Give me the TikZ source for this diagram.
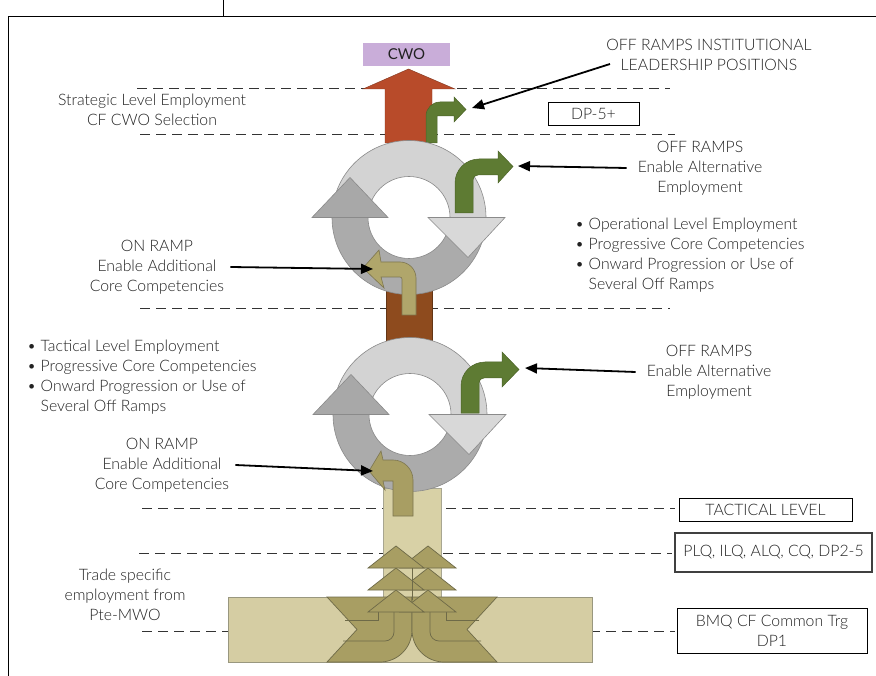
\documentclass[tikz,border=0pt]{standalone}
\usepackage{fontspec}
\IfFontExistsTF{Lato Light}{\setmainfont{Lato Light}}{\setmainfont{Lato}}
\newfontfamily\latoreg{Lato}
\usetikzlibrary{calc,arrows.meta}
\definecolor{txt}{HTML}{222222}
\definecolor{dashc}{HTML}{333333}
\definecolor{ringL}{HTML}{D3D3D3}
\definecolor{ringD}{HTML}{ABABAB}
\definecolor{headL}{HTML}{D8D8D8}
\definecolor{headD}{HTML}{A8A8A8}
\definecolor{ringO}{HTML}{8A8A8A}
\definecolor{cwoC}{HTML}{C9ADD9}
\definecolor{rust}{HTML}{B84B2A}
\definecolor{brownC}{HTML}{8E4B1E}
\definecolor{greenC}{HTML}{5E7B33}
\definecolor{greenO}{HTML}{4C6428}
\definecolor{khaki}{HTML}{B0A66B}
\definecolor{khakiO}{HTML}{7D7650}
\definecolor{colC}{HTML}{D8D1A6}
\definecolor{blockC}{HTML}{D5CDA3}
\definecolor{oliveC}{HTML}{A89E63}
\definecolor{oliveO}{HTML}{6E6A48}
\begin{document}
\begin{tikzpicture}[x=1pt,y=-1pt,
  lbl/.style={font=\fontsize{15.8}{20}\selectfont, align=center, text=txt, inner sep=2pt},
  bul/.style={lbl, align=left, anchor=west, inner sep=0pt},
  tbox/.style={draw=black, line width=0.9pt, font=\fontsize{15.8}{20}\selectfont, text=txt, inner sep=0pt, align=center},
  lvl/.style={draw=dashc, line width=0.8pt, dash pattern=on 10pt off 6pt},
  ptr/.style={draw=black, line width=1.8pt, -{Triangle[length=12pt,width=10pt]}},
  ringlt/.style={fill=ringL, draw=ringO, line width=0.6pt},
  ringdk/.style={fill=ringD, draw=ringO, line width=0.6pt},
  headlt/.style={fill=headL, draw=ringO, line width=0.6pt},
  headdk/.style={fill=headD, draw=ringO, line width=0.6pt},
  offramp/.style={fill=greenC, draw=greenO, line width=0.5pt},
  onramp/.style={fill=khaki, draw=khakiO, line width=0.6pt},
  olive/.style={fill=oliveC, draw=oliveO, line width=0.7pt},
  frame/.style={draw=black, line width=0.8pt}
]
\useasboundingbox (0,0) rectangle (876,676);
\fill[white] (0,0) rectangle (876,676);

% frame
\draw[frame] (8,676) -- (8,16) -- (876,16);
\draw[frame] (223,0) -- (223,16);

% level lines
\draw[lvl] (137,88) -- (670,88);
\draw[lvl] (140,134) -- (675,134);
\draw[lvl] (140,308) -- (670,308);
\draw[lvl] (142,508) -- (675,508);
\draw[lvl] (139,553) -- (672,553);
\draw[lvl] (142,631) -- (675,631);

% CWO arrow
\filldraw[fill=rust, draw=rust!70!black, line width=0.4pt]
  (385,143) -- (385,89) -- (363,89) -- (408.5,69) -- (455,89) -- (432,89) -- (432,143) -- cycle;
% small green off ramp (strategic)
\filldraw[offramp] (426,143) -- (426,116) .. controls (426,108.3) and (432.3,102) .. (440,102)
  -- (454,102) -- (454,97) -- (466,109.5) -- (454,122) -- (454,116) -- (437,116) -- (437,143) -- cycle;

% brown link
\filldraw[fill=brownC, draw=brownC!70!black, line width=0.4pt] (386,290) rectangle (432,342);
% beige column
\filldraw[fill=colC, draw=oliveO!60, line width=0.6pt] (383,488) rectangle (441,598);

% upper ring
\coordinate (C1) at (409,217.5);
\filldraw[ringdk] ($(C1)+(180:77pt)$) arc[start angle=180, end angle=360, radius=77pt]
  -- ($(C1)+(0:41pt)$) arc[start angle=0, end angle=-180, radius=41pt] -- cycle;
\filldraw[ringlt] ($(C1)+(0:77pt)$) arc[start angle=0, end angle=180, radius=77pt]
  -- ($(C1)+(180:41pt)$) arc[start angle=180, end angle=0, radius=41pt] -- cycle;
\filldraw[headlt] (428,217.5) -- (505,217.5) -- (468,257.5) -- cycle;
\filldraw[headdk] (312,217.5) -- (388,217.5) -- (350,177.5) -- cycle;

% lower ring
\coordinate (C2) at (410,414.5);
\filldraw[ringdk] ($(C2)+(180:77pt)$) arc[start angle=180, end angle=360, radius=77pt]
  -- ($(C2)+(0:41pt)$) arc[start angle=0, end angle=-180, radius=41pt] -- cycle;
\filldraw[ringlt] ($(C2)+(0:77pt)$) arc[start angle=0, end angle=180, radius=77pt]
  -- ($(C2)+(180:41pt)$) arc[start angle=180, end angle=0, radius=41pt] -- cycle;
\filldraw[headlt] (429,414.5) -- (506,414.5) -- (469,454.5) -- cycle;
\filldraw[headdk] (313,414.5) -- (389,414.5) -- (351,374.5) -- cycle;

% big green off ramps
\filldraw[offramp] (455,213) -- (455,183) .. controls (455,169.75) and (465.75,159) .. (479,159)
  -- (498,159) -- (498,151) -- (513,166.5) -- (498,183) -- (498,175) -- (478,175)
  .. controls (475,175) and (473,177) .. (473,180) -- (473,213) -- cycle;
\filldraw[offramp] (461,413) -- (461,386) .. controls (461,372.75) and (471.75,362) .. (485,362)
  -- (502,362) -- (502,352) -- (519,369.5) -- (502,387) -- (502,378) -- (484,378)
  .. controls (481,378) and (479,380) .. (479,383) -- (479,413) -- cycle;

% on ramps
\filldraw[onramp] (416,315) -- (416,278) .. controls (416,269.2) and (408.8,262) .. (400,262)
  -- (381,262) -- (379,250) -- (363,268) -- (384,288) -- (381,277) -- (400,277)
  .. controls (401,277) and (402,278) .. (402,279) -- (402,315) -- cycle;
\filldraw[onramp, fill=oliveC] (413,516) -- (413,480) .. controls (413,469) and (404,460) .. (393,460)
  -- (383,460) -- (381,451) -- (369,471) -- (385,490) -- (383,481) -- (393,481) -- (393,516) -- cycle;

% base block
\filldraw[fill=blockC, draw=oliveO!70, line width=0.7pt] (228,597) rectangle (592,662);
\filldraw[olive] (327,597) -- (412,597) -- (412,630) .. controls (412,647.7) and (397.7,662) .. (380,662)
  -- (327,662) -- (357,629.5) -- cycle;
\filldraw[olive] (497,597) -- (412,597) -- (412,630) .. controls (412,647.7) and (426.3,662) .. (444,662)
  -- (497,662) -- (467,629.5) -- cycle;
\draw[oliveO, line width=0.7pt] (345,620) -- (378,620) -- (378,606);
\draw[oliveO, line width=0.7pt] (343,641) -- (385,641) .. controls (390,641) and (394,637) .. (394,632) -- (394,612);
\draw[oliveO, line width=0.7pt] (479,620) -- (446,620) -- (446,606);
\draw[oliveO, line width=0.7pt] (481,641) -- (439,641) .. controls (434,641) and (430,637) .. (430,632) -- (430,612);
% stacked heads
\foreach \t/\b in {590/612, 568/590, 546/568} {
  \filldraw[olive] (400,\b) -- (428,\t) -- (456,\b) -- cycle;
  \filldraw[olive] (368,\b) -- (396,\t) -- (424,\b) -- cycle;
}
\draw[oliveO, line width=0.8pt] (412,568) -- (412,600);

% boxes
\node[fill=cwoC, minimum width=87pt, minimum height=23pt, inner sep=0pt,
  font=\latoreg\fontsize{15}{17}\selectfont, text=txt] (cwo) at (406.5,54.5) {CWO};
\node[tbox, minimum width=91pt, minimum height=23pt] (dp5) at (593.5,113.5) {DP-5+};
\node[tbox, minimum width=173pt, minimum height=23pt] (tact) at (765.5,509.5) {TACTICAL LEVEL};
\node[tbox, draw=black!75, line width=1.1pt, minimum width=197pt, minimum height=39pt] (plq) at (773.5,552.5) {PLQ, ILQ, ALQ, CQ, DP2-5};
\node[tbox, minimum width=190pt, minimum height=45pt] (bmq) at (772,630.5) {BMQ CF Common Trg\\DP1};

% labels
\node[lbl] (offI) at (709,54.5) {OFF RAMPS INSTITUTIONAL\\LEADERSHIP POSITIONS};
\node[lbl] (strat) at (152,110) {Strategic Level Employment\\CF CWO Selection};
\node[lbl] (offA) at (700,168) {OFF RAMPS\\Enable Alternative\\Employment};
\node[bul] (bulR) at (575,255) {\textbullet\ Operational Level Employment\\\textbullet\ Progressive Core Competencies\\\textbullet\ Onward Progression or Use of\\\phantom{\textbullet\ }Several Off Ramps};
\node[lbl] (onA) at (157,267) {ON RAMP\\Enable Additional\\Core Competencies};
\node[bul] (bulL) at (27,377) {\textbullet\ Tactical Level Employment\\\textbullet\ Progressive Core Competencies\\\textbullet\ Onward Progression or Use of\\\phantom{\textbullet\ }Several Off Ramps};
\node[lbl] (offB) at (709,372) {OFF RAMPS\\Enable Alternative\\Employment};
\node[lbl] (onB) at (162,465) {ON RAMP\\Enable Additional\\Core Competencies};
\node[lbl] (trade) at (125,595) {Trade specific\\employment from\\Pte-MWO};

% pointer targets
\coordinate (iS) at (610,64);
\coordinate (iT) at (472,108);
\coordinate (aT) at (518,166);
\coordinate (bT) at (373,269);
\coordinate (cT) at (525,368);
\coordinate (dT) at (373,471);

\draw[ptr] (iS) -- (iT);
\draw[ptr] ([xshift=-9pt]offA.west) -- (aT);
\draw[ptr] ([xshift=4pt]onA.east) -- (bT);
\draw[ptr] ([xshift=-9pt]offB.west) -- (cT);
\draw[ptr] ([xshift=4pt]onB.east) -- (dT);
\end{tikzpicture}
\end{document}
